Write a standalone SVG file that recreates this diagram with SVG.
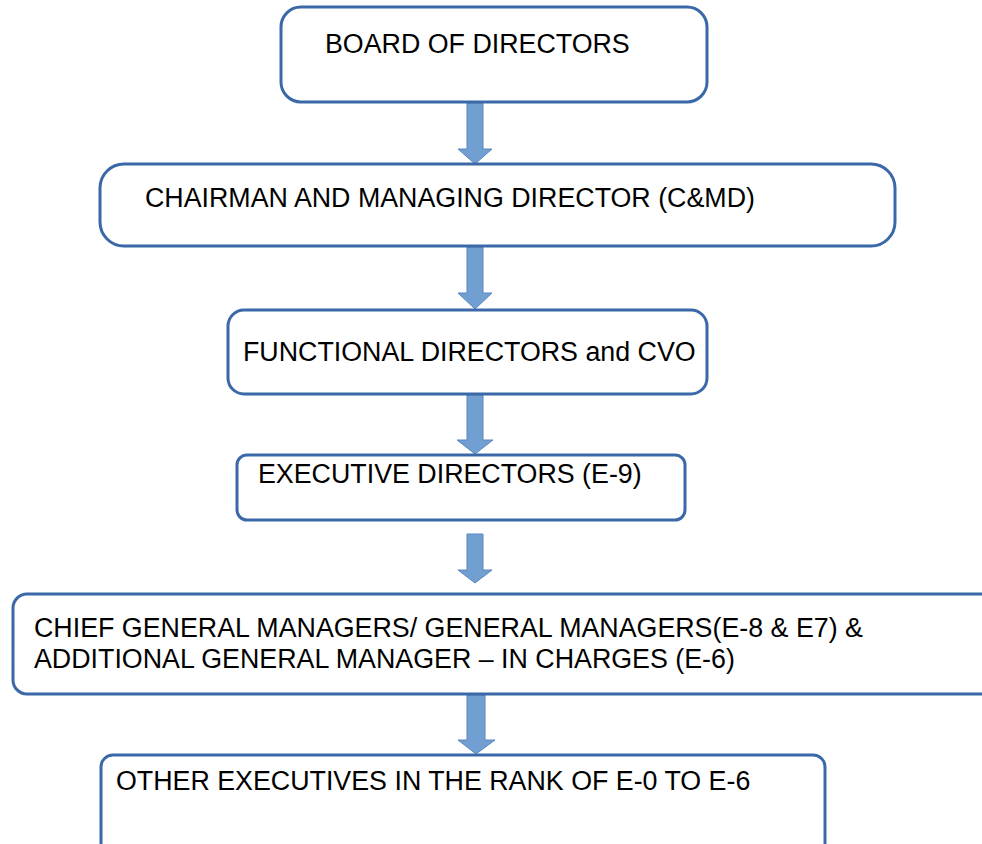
<svg xmlns="http://www.w3.org/2000/svg" width="982" height="844" viewBox="0 0 982 844">
<style>
.box{fill:#ffffff;stroke:#3b68a8;stroke-width:3}
.arr{fill:#719fd2;stroke:#5a87bf;stroke-width:1}
text{font-family:"Liberation Sans",Arial,sans-serif;font-size:26.8px;fill:#000}
</style>
<rect width="982" height="844" fill="#ffffff"/>
<g id="connectors">
<path class="arr" d="M467,103 H483 V149 H492 L475,164 L458,149 H467 Z"/>
<path class="arr" d="M467,247 H483 V293 H492 L475,309 L458,293 H467 Z"/>
<path class="arr" d="M467,395 H483 V440 H493 L475,454 L457,440 H467 Z"/>
<path class="arr" d="M467,534 H483 V570 H492 L475,583 L458,570 H467 Z"/>
<path class="arr" d="M467,695 H485 V740 H495 L476,754 L458,740 H467 Z"/>
</g>
<g id="n1"><rect class="box" x="281" y="7" width="426" height="95" rx="20"/><text x="325" y="53">BOARD OF DIRECTORS</text></g>
<g id="n2"><rect class="box" x="100" y="164" width="795" height="82" rx="24"/><text x="145" y="207">CHAIRMAN AND MANAGING DIRECTOR (C&amp;MD)</text></g>
<g id="n3"><rect class="box" x="228" y="310" width="479" height="84" rx="16"/><text x="243" y="361">FUNCTIONAL DIRECTORS and CVO</text></g>
<g id="n4"><rect class="box" x="237" y="455" width="448" height="65" rx="10"/><text x="258" y="483">EXECUTIVE DIRECTORS (E-9)</text></g>
<g id="n5"><rect class="box" x="13" y="594" width="1000" height="100" rx="14"/><text x="34" y="637">CHIEF GENERAL MANAGERS/ GENERAL MANAGERS(E-8 &amp; E7) &amp;</text><text x="34" y="668">ADDITIONAL GENERAL MANAGER – IN CHARGES (E-6)</text></g>
<g id="n6"><rect class="box" x="101" y="755" width="724" height="110" rx="12"/><text x="116" y="790">OTHER EXECUTIVES IN THE RANK OF E-0 TO E-6</text></g>
</svg>
